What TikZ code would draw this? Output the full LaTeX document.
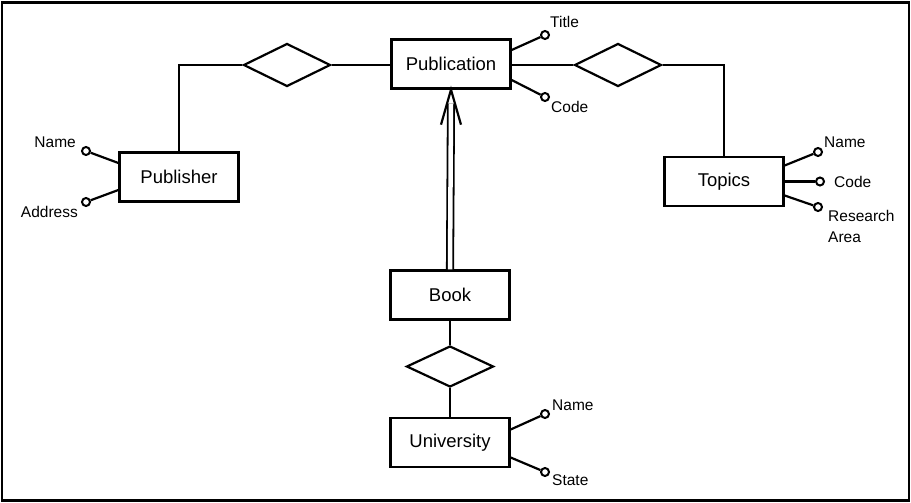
\documentclass[tikz,border=0pt]{standalone}
\usepackage{fontspec}
\setmainfont{Liberation Sans}
\usetikzlibrary{shapes.geometric}
\begin{document}
\begin{tikzpicture}[x=1pt,y=-1pt,
  ent/.style={draw, line width=2.3pt, minimum width=119pt, minimum height=49pt, inner sep=0pt, font=\fontsize{18.5}{21}\selectfont},
  rel/.style={draw, diamond, line width=2.2pt, inner sep=0pt, minimum width=87pt, minimum height=43pt},
  attr/.style={draw, circle, line width=2pt, inner sep=0pt, minimum size=8pt},
  lbl/.style={inner sep=0pt, font=\fontsize{15.5}{21.5}\selectfont},
  conn/.style={line width=2.2pt}]
\useasboundingbox (0,0) rectangle (911,503);
\draw[line width=2.2pt] (2,2.5) rectangle (909,500.5);

% entities
\node[ent] (pub) at (451,64) {Publication};
\node[ent] (publ) at (179,177) {Publisher};
\node[ent] (top) at (724,181.5) {Topics};
\node[ent] (book) at (450,295) {Book};
\node[ent] (uni) at (450,442.5) {University};

% relationships
\node[rel] (d1) at (287,65) {};
\node[rel] (d2) at (618,65) {};
\node[rel, minimum height=41pt] (d3) at (450,366.5) {};

% connectors
\draw[conn] (d1.east) -- (d1.east -| pub.west);
\draw[conn] (d1.west) -| (publ.north);
\draw[conn] (pub.east |- d2.west) -- (d2.west);
\draw[conn] (d2.east) -| (top.north);
\draw[conn] (book.south) -- (d3.north);
\draw[conn] (d3.south) -- (uni.north);

% ISA double arrow
\draw[double, double distance=4.5pt, line width=1.8pt] (book.north) -- ([yshift=-14pt]pub.south);
\draw[conn] ([xshift=-10pt,yshift=-35pt]pub.south) -- (pub.south) -- ([xshift=10pt,yshift=-35pt]pub.south);

% attributes of Publication
\node[attr] (pt) at (545,35) {};
\node[attr] (pc) at (545,97) {};
\draw[conn] ([yshift=14pt]pub.east) -- (pt);
\draw[conn] ([yshift=-16pt]pub.east) -- (pc);
\node[lbl, anchor=base west] (ptl) at (550,28) {Title};
\node[lbl, anchor=base west] (pcl) at (551,112) {Code};

% attributes of Publisher
\node[attr] (pn) at (86,151) {};
\node[attr] (pa) at (86,202) {};
\draw[conn] ([yshift=14pt]publ.west) -- (pn);
\draw[conn] ([yshift=-13pt]publ.west) -- (pa);
\node[lbl, anchor=base east] (pnl) at (76,147) {Name};
\node[lbl, anchor=base east] (pal) at (78,217) {Address};

% attributes of Topics
\node[attr] (tn) at (818,152) {};
\node[attr] (tc) at (820,181.5) {};
\node[attr] (tr) at (818,207) {};
\draw[conn] ([yshift=16pt]top.east) -- (tn);
\draw[conn] (top.east) -- (tc);
\draw[conn] ([yshift=-14pt]top.east) -- (tr);
\node[lbl, anchor=base west] (tnl) at (824,147) {Name};
\node[lbl, anchor=base west] (tcl) at (834,187) {Code};
\node[lbl, anchor=north west, align=left] (trl) at (828,210) {Research\\Area};

% attributes of University
\node[attr] (un) at (545,414) {};
\node[attr] (us) at (545,472) {};
\draw[conn] ([yshift=13pt]uni.east) -- (un);
\draw[conn] ([yshift=-15pt]uni.east) -- (us);
\node[lbl, anchor=base west] (unl) at (552,410) {Name};
\node[lbl, anchor=base west] (usl) at (552,485) {State};
\end{tikzpicture}
\end{document}
